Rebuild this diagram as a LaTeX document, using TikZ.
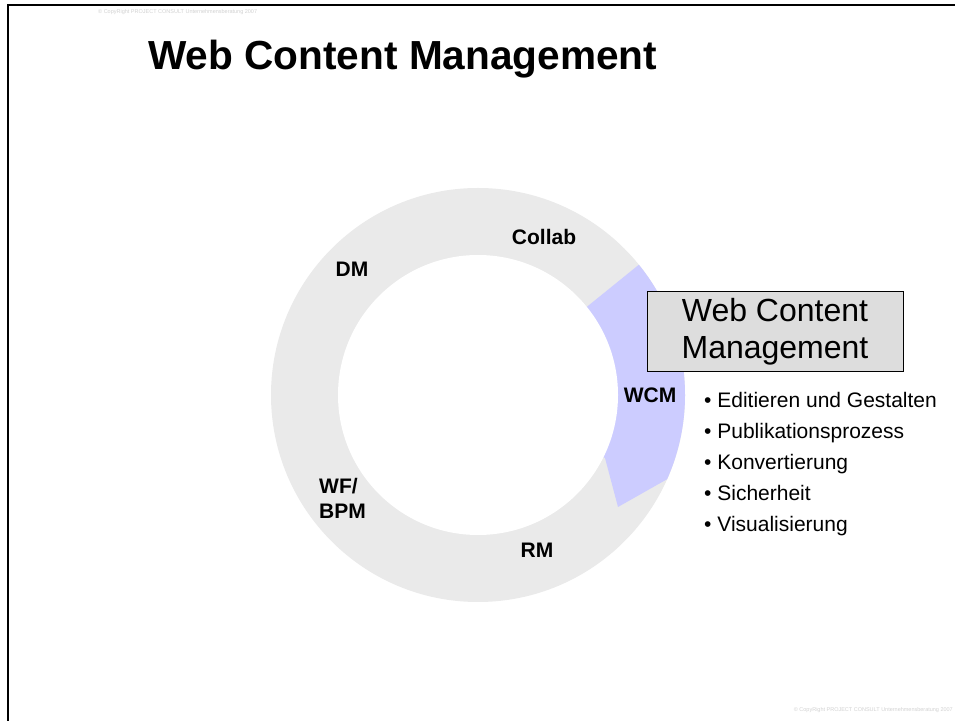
\documentclass[tikz,border=0pt]{standalone}
\usepackage{fontspec}
\setmainfont{Liberation Sans}
\definecolor{ringgray}{HTML}{EAEAEA}
\definecolor{wcmblue}{HTML}{CCCCFF}
\definecolor{boxgray}{HTML}{DDDDDD}
\definecolor{notegray}{HTML}{D2D2D2}
\begin{document}
\begin{tikzpicture}[x=1pt,y=1pt,
  seglabel/.style={font=\fontsize{21}{25}\selectfont\bfseries, inner sep=0pt, anchor=base},
  bulletitem/.style={font=\fontsize{21}{31}\selectfont, inner sep=0pt, anchor=base west},
  copynote/.style={font=\fontsize{5.5}{6}\selectfont, text=notegray, inner sep=0pt, anchor=base west}]
\useasboundingbox (0,0) rectangle (955,720);
\clip (0,0) rectangle (955,720);
\fill[white] (0,0) rectangle (955,720);
% slide frame (left and top edges)
\draw[line width=2.3pt, line join=miter] (7.8,-5) -- (7.8,714.8) -- (960,714.8);
% ring of segments
\coordinate (c) at (478,325);
\fill[ringgray] (c) circle[radius=207];
\fill[wcmblue] (c) -- ++(39:207) arc[start angle=39, end angle=-24, radius=207]
  -- (618,213) -- (605,262) -- cycle;
\fill[white] (c) circle[radius=140];
% segment labels
\node[seglabel] (collab) at (544,475) {Collab};
\node[seglabel] (dm) at (352,443) {DM};
\node[seglabel] (wcm) at (650,317) {WCM};
\node[seglabel, anchor=base west] (wfbpm) at (319,201) {\begin{tabular}[b]{@{}l@{}}WF/\\BPM\end{tabular}};
\node[seglabel] (rm) at (537,162) {RM};
% title
\node[font=\fontsize{40.6}{48}\selectfont\bfseries, anchor=base west, inner sep=0pt] (title) at (148,650) {Web Content Management};
% highlighted topic box
\node[draw=black, line width=1pt, fill=boxgray, minimum width=256pt, minimum height=80pt,
  inner sep=0pt, align=center, font=\fontsize{32}{37}\selectfont] (wcmbox) at (775,388) {Web Content\\Management};
% feature list
\foreach \t [count=\i] in {Editieren und Gestalten, Publikationsprozess, Konvertierung, Sicherheit, Visualisierung}
  \node[bulletitem] (item\i) at (704,{312-31*(\i-1)}) {• \t};
% copyright notes
\node[copynote] (copytop) at (98,706) {© CopyRight PROJECT CONSULT Unternehmensberatung 2007};
\node[copynote, anchor=base east] (copybottom) at (953,9) {© CopyRight PROJECT CONSULT Unternehmensberatung 2007};
\end{tikzpicture}
\end{document}
